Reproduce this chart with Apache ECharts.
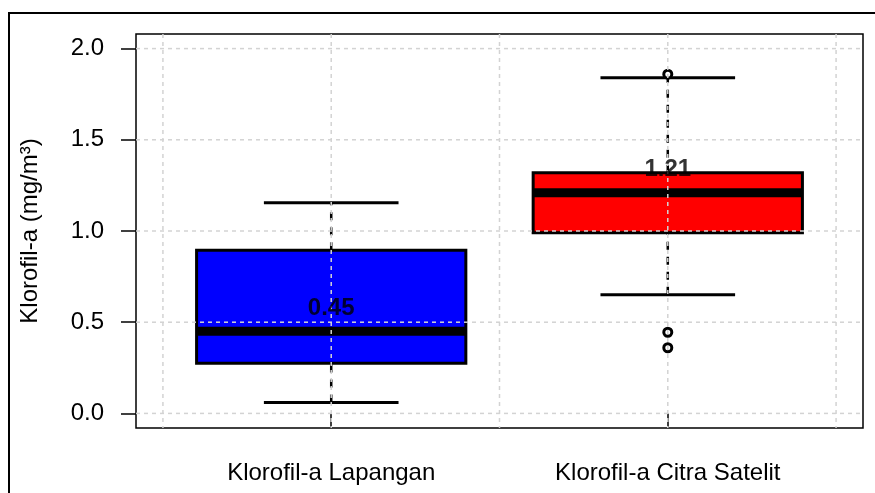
<!DOCTYPE html>
<html lang="id">
<head>
    <meta charset="UTF-8">
    <title>Boxplot Klorofil-a</title>
    <script src="https://cdn.jsdelivr.net/npm/echarts@6/dist/echarts.min.js"></script>
    <style>
        html, body { margin: 0; padding: 0; background: #fff; }
        #chart { width: 875px; height: 493px; }
    </style>
</head>
<body>
<div id="chart"></div>

<script>
    // data
    var categories = ['Klorofil-a Lapangan', 'Klorofil-a Citra Satelit'];
    var lowerWhisker = [0.06, 0.65];
    var q1 = [0.275, 0.99];
    var median = [0.45, 1.21];
    var q3 = [0.895, 1.32];
    var upperWhisker = [1.155, 1.84];
    var medianLabels = ['0.45', '1.21'];
    // outlier: [kelompok, nilai]
    var outliers = [[2, 1.86], [2, 0.445], [2, 0.36]];

    var yTicks = [0, 0.5, 1.0, 1.5, 2.0];
    var xTicks = [1, 2];
    var gridX = [0.5, 1, 1.5, 2, 2.5];

    var boxColors = ['#0000FF', '#FF0000'];

    var boxData = categories.map(function (c, i) {
        return [i + 1, lowerWhisker[i], q1[i], median[i], q3[i], upperWhisker[i]];
    });

    var chart = echarts.init(document.getElementById('chart'));

    function renderBox(params, api) {
        var x = api.value(0);
        var lo = api.value(1), b1 = api.value(2), med = api.value(3), b3 = api.value(4), hi = api.value(5);
        var p = function (xv, yv) { return api.coord([xv, yv]); };
        var color = boxColors[params.dataIndex];
        var tl = p(x - 0.4, b3), br = p(x + 0.4, b1);
        return {
            type: 'group',
            children: [
                { type: 'line', shape: { x1: p(x, b3)[0], y1: p(x, b3)[1], x2: p(x, hi)[0], y2: p(x, hi)[1] },
                  style: { stroke: '#000', lineWidth: 2.5, lineDash: [8, 7] } },
                { type: 'line', shape: { x1: p(x, lo)[0], y1: p(x, lo)[1], x2: p(x, b1)[0], y2: p(x, b1)[1] },
                  style: { stroke: '#000', lineWidth: 2.5, lineDash: [8, 7] } },
                { type: 'line', shape: { x1: p(x - 0.2, hi)[0], y1: p(x, hi)[1], x2: p(x + 0.2, hi)[0], y2: p(x, hi)[1] },
                  style: { stroke: '#000', lineWidth: 3 } },
                { type: 'line', shape: { x1: p(x - 0.2, lo)[0], y1: p(x, lo)[1], x2: p(x + 0.2, lo)[0], y2: p(x, lo)[1] },
                  style: { stroke: '#000', lineWidth: 3 } },
                { type: 'rect', shape: { x: tl[0], y: tl[1], width: br[0] - tl[0], height: br[1] - tl[1] },
                  style: { fill: color, stroke: '#000', lineWidth: 3 } },
                { type: 'line', shape: { x1: tl[0], y1: p(x, med)[1], x2: br[0], y2: p(x, med)[1] },
                  style: { stroke: '#000', lineWidth: 9 } }
            ]
        };
    }

    // garis grid putus-putus di atas box (seperti grid() di R)
    function renderGrid(params, api) {
        var cs = params.coordSys;
        var kind = api.value(0), v = api.value(1);
        var shape;
        if (kind === 0) {
            var px = api.coord([v, 0])[0];
            shape = { x1: px, y1: cs.y, x2: px, y2: cs.y + cs.height };
        } else {
            var py = api.coord([1, v])[1];
            shape = { x1: cs.x, y1: py, x2: cs.x + cs.width, y2: py };
        }
        return { type: 'line', shape: shape, style: { stroke: '#d3d3d3', lineWidth: 1.5, lineDash: [4, 4] } };
    }

    var gridLines = gridX.map(function (v) { return [0, v]; })
        .concat(yTicks.map(function (v) { return [1, v]; }));

    var option = {
        animation: false,
        graphic: [{
            type: 'rect',
            shape: { x: 9, y: 13, width: 1000, height: 1000 },
            style: { fill: 'none', stroke: '#000', lineWidth: 2 },
            silent: true
        }],
        grid: {
            left: 136, right: 12, top: 34, bottom: 65,
            show: true, borderColor: '#000', borderWidth: 1.5, backgroundColor: 'transparent'
        },
        xAxis: {
            type: 'value',
            min: 0.42, max: 2.58,
            axisLine: { show: false },
            splitLine: { show: false },
            axisTick: { show: true, customValues: xTicks, length: 14, lineStyle: { color: '#000', width: 1.5 } },
            axisLabel: {
                customValues: xTicks,
                margin: 33,
                fontSize: 24,
                color: '#000',
                fontFamily: 'Liberation Sans, Arial, sans-serif',
                formatter: function (v) { return categories[Math.round(v) - 1]; }
            }
        },
        yAxis: {
            type: 'value',
            min: -0.08, max: 2.08,
            name: 'Klorofil-a (mg/m³)',
            nameLocation: 'middle',
            nameGap: 94,
            nameTextStyle: { fontSize: 24, color: '#000', fontFamily: 'Liberation Sans, Arial, sans-serif' },
            axisLine: { show: false },
            splitLine: { show: false },
            axisTick: { show: true, customValues: yTicks, length: 15, lineStyle: { color: '#000', width: 1.5 } },
            axisLabel: {
                customValues: yTicks,
                margin: 32,
                fontSize: 24,
                color: '#000',
                fontFamily: 'Liberation Sans, Arial, sans-serif',
                formatter: function (v) { return v.toFixed(1); }
            }
        },
        series: [
            {
                type: 'custom',
                name: 'box',
                renderItem: renderBox,
                data: boxData,
                encode: { x: 0, y: [1, 2, 3, 4, 5] },
                z: 2
            },
            {
                type: 'scatter',
                name: 'outlier',
                data: outliers,
                symbol: 'circle',
                symbolSize: 8,
                itemStyle: { color: '#fff', borderColor: '#000', borderWidth: 3, opacity: 1 },
                z: 3
            },
            {
                type: 'custom',
                name: 'grid',
                renderItem: renderGrid,
                data: gridLines,
                silent: true,
                z: 4
            },
            {
                type: 'scatter',
                name: 'median',
                data: median.map(function (m, i) { return [i + 1, m]; }),
                symbolSize: 0,
                label: {
                    show: true,
                    position: 'inside',
                    offset: [0, -23],
                    fontSize: 24,
                    fontWeight: 'bold',
                    color: '#000',
                    fontFamily: 'Liberation Sans, Arial, sans-serif',
                    formatter: function (p) { return medianLabels[p.dataIndex]; }
                },
                z: 5
            }
        ]
    };

    chart.setOption(option);
</script>
</body>
</html>
